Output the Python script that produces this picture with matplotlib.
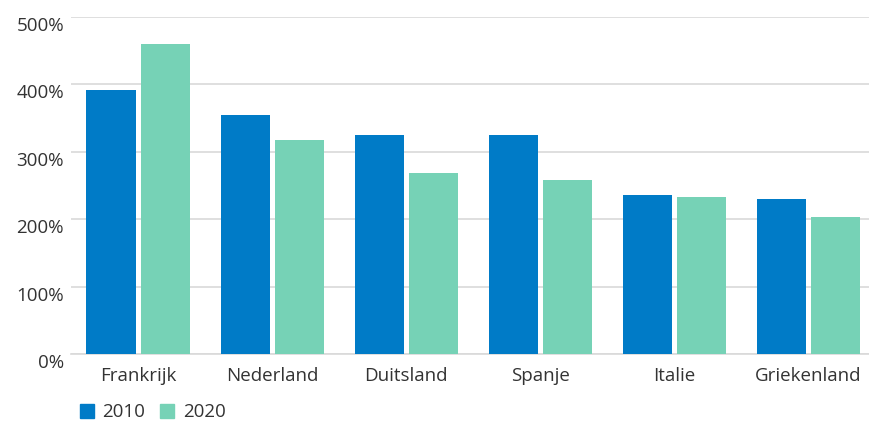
import numpy as np
import matplotlib
matplotlib.use('Agg')
import matplotlib.pyplot as plt
from matplotlib.ticker import FuncFormatter
from matplotlib.patches import Patch

# data (percentages)
landen = ['Frankrijk', 'Nederland', 'Duitsland', 'Spanje', 'Italie', 'Griekenland']
waarden_2010 = [392, 355, 325, 325, 236, 230]
waarden_2020 = [460, 318, 269, 258, 233, 203]
jaren = ['2010', '2020']

kleur_2010 = '#007BC7'
kleur_2020 = '#76D2B6'
tekst_kleur = '#333333'

plt.rcParams['font.family'] = ['Open Sans', 'DejaVu Sans']

fig = plt.figure(figsize=(8.7, 4.23), dpi=100)
W, H = 870, 423
ax = fig.add_axes([71 / W, 1 - 354 / H, (870 - 71) / W, (354 - 17) / H])

x = np.arange(len(landen))
breedte = 0.366
offset = 0.2015
ax.bar(x - offset, waarden_2010, breedte, color=kleur_2010, zorder=3)
ax.bar(x + offset, waarden_2020, breedte, color=kleur_2020, zorder=3)

ax.set_xlim(-0.5, 5.46)
ax.set_ylim(0, 500)
ax.set_yticks(np.arange(0, 501, 100))
ax.yaxis.set_major_formatter(FuncFormatter(lambda v, p: f'{int(v)}%'))
ax.set_xticks(x)
ax.set_xticklabels(landen)

ax.grid(axis='y', color='#d9d9d9', linewidth=1.2, zorder=0)
for s in ['top', 'right', 'left']:
    ax.spines[s].set_visible(False)
ax.spines['bottom'].set_color('#d9d9d9')
ax.spines['bottom'].set_linewidth(1.2)
ax.tick_params(axis='both', length=0, labelsize=13.5, colors=tekst_kleur)
ax.tick_params(axis='x', pad=9)
ax.tick_params(axis='y', pad=5)
for lbl in ax.get_yticklabels():
    lbl.set_va('top')

handles = [Patch(color=kleur_2010), Patch(color=kleur_2020)]
fig.legend(handles, jaren, loc='lower left', bbox_to_anchor=(80 / W, 0.004),
           ncol=2, frameon=False, fontsize=13.5, handlelength=0.75, handleheight=0.75,
           handletextpad=0.45, columnspacing=0.8, labelcolor=tekst_kleur,
           borderaxespad=0, borderpad=0)

fig.savefig('out.png', dpi=100)
